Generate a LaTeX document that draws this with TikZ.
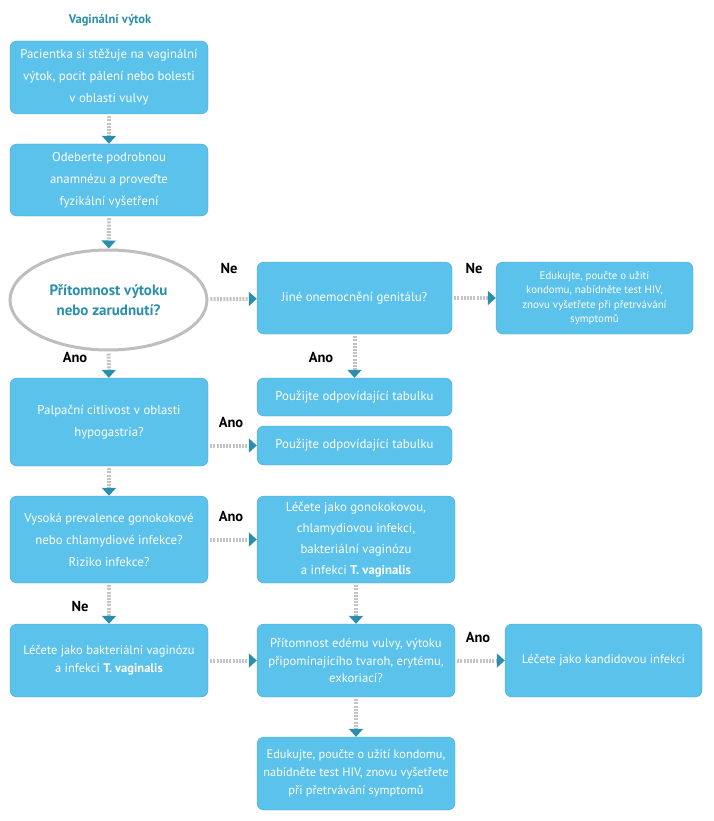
\documentclass[tikz,border=0pt]{standalone}
\usepackage{fontspec}
\setmainfont{PT Sans}
\usetikzlibrary{arrows.meta,shapes.geometric}
\definecolor{boxblue}{HTML}{5BC2EB}
\definecolor{boxedge}{HTML}{45A8D0}
\definecolor{headteal}{HTML}{2A8FAD}
\definecolor{linegray}{HTML}{C4C4C4}
\definecolor{ovalgray}{HTML}{BEBEBE}

\tikzset{
  stepbox/.style={draw=boxedge,fill=boxblue,rounded corners=7pt,text=white,
    align=center,inner sep=0pt,font=\fontsize{12.8}{22}\selectfont},
  flow/.style={linegray,line width=4pt,dash pattern=on 2pt off 1.2pt,
    shorten <=2pt,-{Triangle[headteal,length=8pt,width=14pt]}},
  answer/.style={font=\fontsize{14.5}{16}\selectfont\bfseries,text=black},
}

\begin{document}
\begin{tikzpicture}[x=1pt,y=-1pt]
  \useasboundingbox (0,0) rectangle (713,821);
  % title and first column
  \node[text=headteal,font=\fontsize{12.5}{14}\selectfont\bfseries] (title) at (110,20) {Vaginální výtok};
  \node[stepbox,minimum width=198pt,minimum height=73pt] (complaint) at (109,77.5)
    {Pacientka si stěžuje na vaginální\\výtok, pocit pálení nebo bolesti\\v oblasti vulvy};
  \node[stepbox,minimum width=198pt,minimum height=72pt] (history) at (109,180)
    {Odeberte podrobnou\\anamnézu a proveďte\\fyzikální vyšetření};
  \node[ellipse,draw=ovalgray,line width=3pt,fill=white,inner sep=0pt,
    minimum width=197pt,minimum height=100pt,text=headteal,align=center,
    font=\fontsize{15}{20}\selectfont\bfseries] (discharge) at (108.5,300)
    {Přítomnost výtoku\\nebo zarudnutí?};
  \node[stepbox,minimum width=198pt,minimum height=88pt] (palpation) at (109,422)
    {Palpační citlivost v oblasti\\hypogastria?};
  \node[stepbox,minimum width=198pt,minimum height=87pt] (prevalence) at (109,539.5)
    {Vysoká prevalence gonokokové\\nebo chlamydiové infekce?\\Riziko infekce?};
  \node[stepbox,minimum width=198pt,minimum height=73pt,font=\fontsize{12.5}{18}\selectfont] (bvtreat) at (109,660.5)
    {Léčete jako bakteriální vaginózu\\a infekci \textbf{T. vaginalis}};
  % second column
  \node[stepbox,minimum width=195pt,minimum height=72pt] (genital) at (354.5,298)
    {Jiné onemocnění genitálu?};
  \node[stepbox,minimum width=195pt,minimum height=38pt] (table1) at (354.5,397)
    {Použijte odpovídající tabulku};
  \node[stepbox,minimum width=195pt,minimum height=39pt] (table2) at (354.5,445.5)
    {Použijte odpovídající tabulku};
  \node[stepbox,minimum width=198pt,minimum height=87pt,font=\fontsize{12.8}{21}\selectfont] (gonotreat) at (356,539.5)
    {Léčete jako gonokokovou,\\chlamydiovou infekci,\\bakteriální vaginózu\\a infekci \textbf{T. vaginalis}};
  \node[stepbox,minimum width=198pt,minimum height=73pt,font=\fontsize{12.6}{17.5}\selectfont] (edema) at (356,660.5)
    {Přítomnost edému vulvy, výtoku\\připomínajícího tvaroh, erytému,\\exkoriací?};
  \node[stepbox,minimum width=198pt,minimum height=73pt,font=\fontsize{12.3}{18}\selectfont] (educate2) at (356,773.5)
    {Edukujte, poučte o užití kondomu,\\nabídněte test HIV, znovu vyšetřete\\při přetrvávání symptomů};
  % third column
  \node[stepbox,minimum width=197pt,minimum height=72pt,font=\fontsize{10.9}{14.5}\selectfont] (educate1) at (594.5,298)
    {Edukujte, poučte o užití\\kondomu, nabídněte test HIV,\\znovu vyšetřete při přetrvávání\\symptomů};
  \node[stepbox,minimum width=197pt,minimum height=73pt,font=\fontsize{12.5}{18}\selectfont] (candida) at (603.5,660.5)
    {Léčete jako kandidovou infekci};
  % connectors
  \draw[flow] (complaint) -- (history);
  \draw[flow] (history) -- (discharge);
  \draw[flow] (discharge) -- (genital);
  \draw[flow] (genital) -- (educate1);
  \draw[flow] (discharge) -- (palpation);
  \draw[flow] (genital) -- (table1);
  \draw[flow] (palpation.east |- table2.west) -- (table2.west);
  \draw[flow] (palpation) -- (prevalence);
  \draw[flow] (prevalence) -- (gonotreat);
  \draw[flow] (prevalence) -- (bvtreat);
  \draw[flow] (gonotreat) -- (edema);
  \draw[flow] (bvtreat) -- (edema);
  \draw[flow] (edema) -- (candida);
  \draw[flow] (edema) -- (educate2);
  % answers
  \node[answer] (ne1) at (229,268) {Ne};
  \node[answer] (ne2) at (474,268) {Ne};
  \node[answer] (ano1) at (75,357) {Ano};
  \node[answer] (ano2) at (321,357) {Ano};
  \node[answer] (ano3) at (231,422) {Ano};
  \node[answer] (ano4) at (231,516) {Ano};
  \node[answer] (ne3) at (80,606) {Ne};
  \node[answer] (ano5) at (478,637) {Ano};
\end{tikzpicture}
\end{document}
